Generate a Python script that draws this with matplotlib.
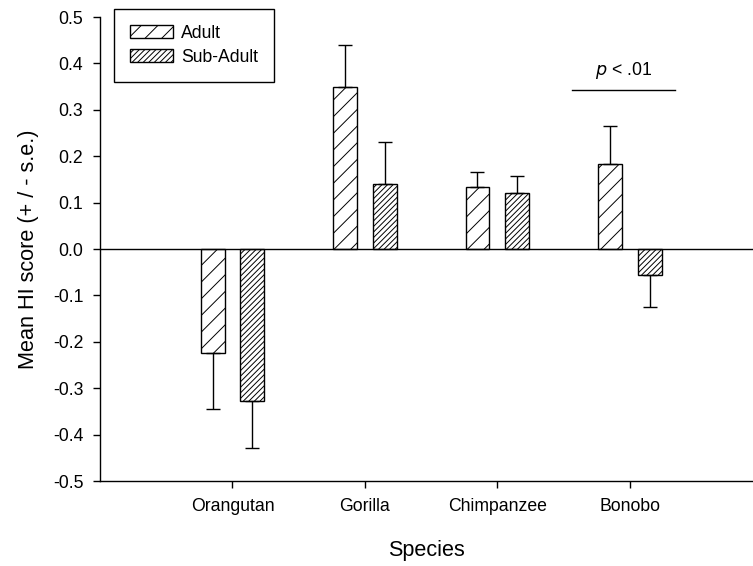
import numpy as np
import matplotlib.pyplot as plt
from matplotlib.patches import Patch

plt.rcParams['font.family'] = ['Liberation Sans', 'DejaVu Sans']
plt.rcParams['hatch.linewidth'] = 0.7

# data
species = ['Orangutan', 'Gorilla', 'Chimpanzee', 'Bonobo']
adult = [-0.225, 0.35, 0.133, 0.183]
adult_se = [0.12, 0.09, 0.032, 0.082]
sub_adult = [-0.328, 0.14, 0.12, -0.056]
sub_adult_se = [0.10, 0.09, 0.038, 0.068]
sig_text = '$p$ < .01'
sig_y = 0.343

x = np.arange(1, len(species) + 1)
bar_w = 0.18
off = 0.15


def one_sided(vals, se):
    lo = [s if v < 0 else 0 for v, s in zip(vals, se)]
    hi = [s if v >= 0 else 0 for v, s in zip(vals, se)]
    return [lo, hi]


fig = plt.figure(figsize=(7.53, 5.66), dpi=100)
ax = fig.add_axes([100 / 753, 85 / 566, 653 / 753, 464 / 566])

ekw = dict(ecolor='black', elinewidth=1, capsize=4.7, capthick=1)
ax.bar(x - off, adult, bar_w, color='white', edgecolor='black', linewidth=1,
       hatch='//', yerr=one_sided(adult, adult_se), error_kw=ekw, zorder=2)
ax.bar(x + off, sub_adult, bar_w, color='white', edgecolor='black',
       linewidth=1, hatch='//////', yerr=one_sided(sub_adult, sub_adult_se),
       error_kw=ekw, zorder=2)

ax.axhline(0, color='black', linewidth=1, zorder=3)

# significance bar over bonobo
ax.plot([3.562, 4.338], [sig_y, sig_y], color='black', linewidth=1)
ax.text(3.95, sig_y + 0.018, sig_text, ha='center', va='bottom', fontsize=12.7)

ax.set_xlim(0, 4.93)
ax.set_ylim(-0.5, 0.5)
yt = np.round(np.arange(-0.5, 0.51, 0.1), 1)
ax.set_yticks(yt)
ax.set_yticklabels([f'{v:.1f}' if v != 0 else '0.0' for v in yt])
ax.set_xticks(x)
ax.set_xticklabels(species)
ax.tick_params(direction='out', length=5, width=1, labelsize=12.7, pad=7)

for s in ['top', 'right']:
    ax.spines[s].set_visible(False)
for s in ['left', 'bottom']:
    ax.spines[s].set_linewidth(1)

ax.set_ylabel('Mean HI score (+ / - s.e.)', fontsize=15.6, labelpad=10)
ax.set_xlabel('Species', fontsize=15.6, labelpad=18)

handles = [Patch(facecolor='white', edgecolor='black', hatch='//', label='Adult'),
           Patch(facecolor='white', edgecolor='black', hatch='//////', label='Sub-Adult')]
leg = ax.legend(handles=handles, loc='upper left', bbox_to_anchor=(114 / 753, 1 - 9 / 566),
                bbox_transform=fig.transFigure, borderaxespad=0, fontsize=12.7,
                fancybox=False, framealpha=1, edgecolor='black',
                handlelength=2.45, handleheight=0.75, handletextpad=0.45,
                labelspacing=0.4, borderpad=0.9)
leg.get_frame().set_linewidth(1)

fig.savefig('out.png', dpi=100)
